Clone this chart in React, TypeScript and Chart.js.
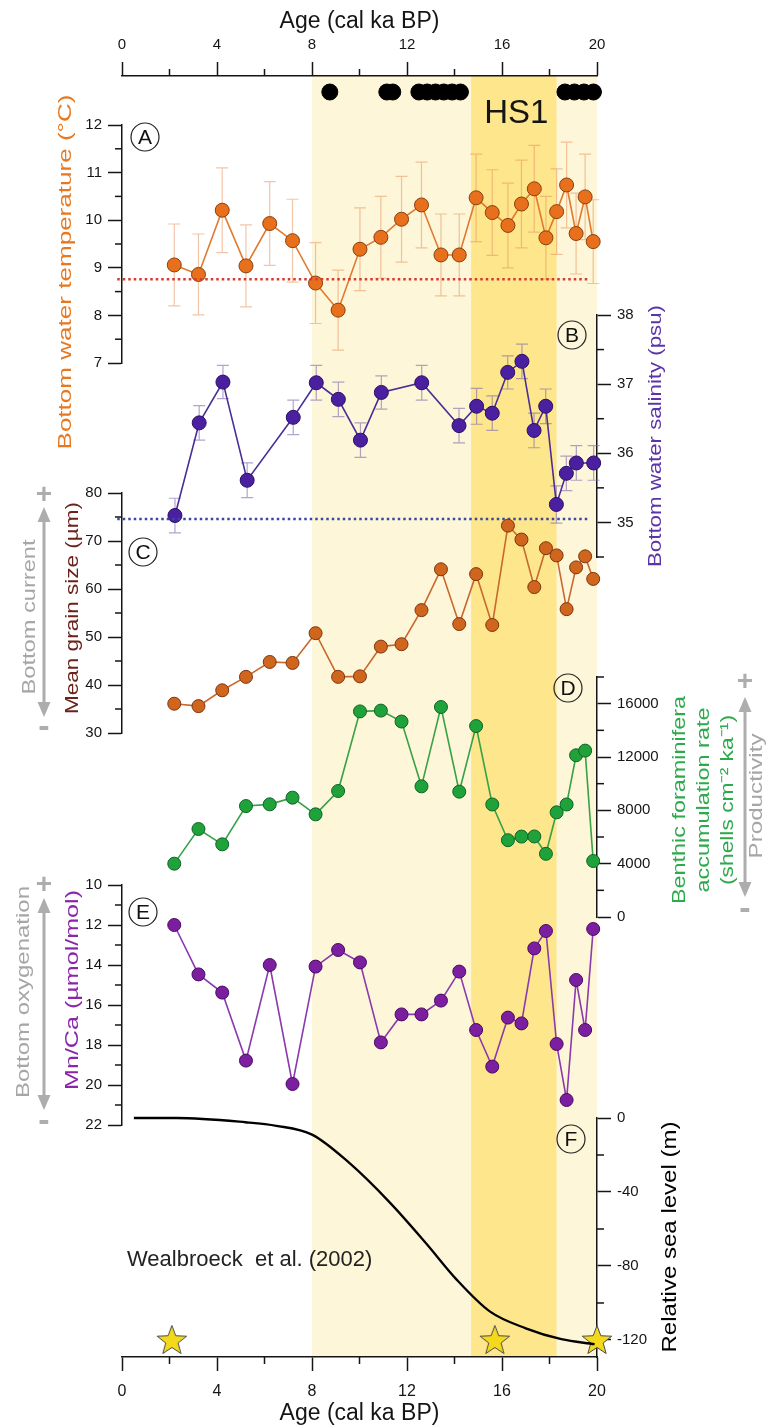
import React, { useEffect, useRef } from 'react';
import { Chart, registerables } from 'chart.js';

Chart.register(...registerables);

const W = 766;
const H = 1428;
const FONT = "'Liberation Sans', Arial, Helvetica, sans-serif";
const PLOT_LEFT = 122;
const PLOT_RIGHT = 597;
const FRAME_TOP = 76;
const FRAME_BOTTOM = 1357;

// ---------------- data ----------------
const AGE_TICKS = [0, 2, 4, 6, 8, 10, 12, 14, 16, 18, 20];
const AGE_LABELS = [0, 4, 8, 12, 16, 20];

const LIGHT_BANDS = [[8.0, 14.7], [18.3, 20.0]];
const HS1_BAND = [14.7, 18.3];

const DATED_AGES = [8.75, 11.15, 11.4, 12.5, 12.85, 13.2, 13.55, 13.9, 14.25, 18.65, 19.05, 19.45, 19.85];
const DATED_ROW = 0.9875;

const SAMPLE_AGES = [2.2, 3.22, 4.22, 5.22, 6.22, 7.18, 8.15, 9.1, 10.02, 10.9, 11.77, 12.61, 13.43, 14.2, 14.91, 15.59, 16.25, 16.82, 17.36, 17.85, 18.3, 18.72, 19.12, 19.5, 19.84];

const TEMP = [9.06, 8.86, 10.21, 9.04, 9.93, 9.57, 8.68, 8.11, 9.39, 9.64, 10.02, 10.32, 9.27, 9.27, 10.47, 10.16, 9.89, 10.34, 10.66, 9.63, 10.18, 10.74, 9.72, 10.49, 9.55];
const TEMP_ERR = [0.86, 0.85, 0.89, 0.86, 0.88, 0.87, 0.85, 0.84, 0.87, 0.86, 0.9, 0.9, 0.86, 0.86, 0.92, 0.9, 0.89, 0.92, 0.91, 0.87, 0.9, 0.9, 0.85, 0.9, 0.88];
const TEMP_REF = 8.76;
const TEMP_REF_SPAN = [-0.2, 19.6];
const TEMP_TICKS = [7, 7.5, 8, 8.5, 9, 9.5, 10, 10.5, 11, 11.5, 12];
const TEMP_LABELS = [7, 8, 9, 10, 11, 12];

const SAL_AGES = [2.23, 3.25, 4.25, 5.27, 7.21, 8.18, 9.11, 10.04, 10.92, 12.62, 14.19, 14.93, 15.59, 16.24, 16.84, 17.35, 17.84, 18.29, 18.71, 19.13, 19.86];
const SAL = [35.1, 36.44, 37.03, 35.61, 36.52, 37.02, 36.78, 36.19, 36.88, 37.02, 36.4, 36.68, 36.58, 37.17, 37.33, 36.33, 36.68, 35.26, 35.71, 35.86, 35.86];
const SAL_ERR = [0.25, 0.25, 0.24, 0.25, 0.25, 0.25, 0.25, 0.25, 0.24, 0.25, 0.25, 0.26, 0.25, 0.24, 0.25, 0.25, 0.25, 0.27, 0.25, 0.25, 0.25];
const SAL_REF = 35.05;
const SAL_REF_SPAN = [-0.2, 19.7];
const SAL_TICKS = [34.5, 35, 35.5, 36, 36.5, 37, 37.5, 38];
const SAL_LABELS = [35, 36, 37, 38];

const GRAIN = [36.1, 35.6, 38.9, 41.7, 44.8, 44.6, 50.8, 41.7, 41.8, 48.0, 48.5, 55.6, 64.1, 52.7, 63.1, 52.5, 73.2, 70.3, 60.4, 68.5, 67.0, 55.8, 64.5, 66.8, 62.1];
const GRAIN_TICKS = [30, 35, 40, 45, 50, 55, 60, 65, 70, 75, 80];
const GRAIN_LABELS = [30, 40, 50, 60, 70, 80];

const BFAR = [4000, 6600, 5450, 8320, 8450, 8950, 7700, 9450, 15420, 15480, 14660, 9800, 15750, 9400, 14320, 8440, 5760, 6030, 6040, 4740, 7850, 8440, 12130, 12480, 4200];
const BFAR_TICKS = [0, 2000, 4000, 6000, 8000, 10000, 12000, 14000, 16000, 18000];
const BFAR_LABELS = [0, 4000, 8000, 12000, 16000];

const MNCA = [12.0, 14.47, 15.38, 18.78, 14.0, 19.95, 14.08, 13.25, 13.87, 17.87, 16.47, 16.47, 15.78, 14.33, 17.25, 19.08, 16.63, 16.92, 13.17, 12.3, 17.95, 20.75, 14.75, 17.25, 12.2];
const MNCA_TICKS = [10, 11, 12, 13, 14, 15, 16, 17, 18, 19, 20, 21, 22];
const MNCA_LABELS = [10, 12, 14, 16, 18, 20, 22];

const SEA_AGES = [0.5, 2.3, 5.2, 6.5, 8.0, 9.5, 11.3, 12.8, 14.1, 15.5, 17.0, 18.5, 19.9];
const SEA_LEVEL = [0, 0, -2.3, -4.2, -9, -23.5, -46, -67.7, -87.5, -104.7, -113.7, -119.6, -122.3];
const SEA_TICKS = [0, -20, -40, -60, -80, -100, -120];
const SEA_LABELS = [0, -40, -80, -120];
const STAR_AGES = [2.1, 15.7, 20.0];
const STAR_LEVEL = -120;

// ---------------- helpers ----------------
const near = (list: number[], v: number) => list.some((m) => Math.abs(m - v) < 1e-9);

function rotatedText(ctx: CanvasRenderingContext2D, text: string, x: number, cy: number, size: number, color: string, length: number) {
  ctx.save();
  ctx.font = `${size}px ${FONT}`;
  const w = ctx.measureText(text).width;
  ctx.translate(x, cy);
  ctx.rotate(-Math.PI / 2);
  ctx.scale(length / w, 1);
  ctx.fillStyle = color;
  ctx.textAlign = 'center';
  ctx.textBaseline = 'middle';
  ctx.fillText(text, 0, 0);
  ctx.restore();
}

function letterCircle(ctx: CanvasRenderingContext2D, letter: string, x: number, y: number) {
  ctx.save();
  ctx.beginPath();
  ctx.arc(x, y, 14, 0, Math.PI * 2);
  ctx.lineWidth = 1.2;
  ctx.strokeStyle = '#222';
  ctx.stroke();
  ctx.font = `21px ${FONT}`;
  ctx.fillStyle = '#111';
  ctx.textAlign = 'center';
  ctx.textBaseline = 'middle';
  ctx.fillText(letter, x, y + 1);
  ctx.restore();
}

function grayArrow(ctx: CanvasRenderingContext2D, x: number, tipTop: number, tipBot: number, plusY: number, minusY: number) {
  const c = '#ADADAD';
  ctx.save();
  ctx.strokeStyle = c;
  ctx.fillStyle = c;
  ctx.lineWidth = 3;
  ctx.beginPath();
  ctx.moveTo(x, tipTop + 10);
  ctx.lineTo(x, tipBot - 10);
  ctx.stroke();
  ctx.beginPath();
  ctx.moveTo(x, tipTop);
  ctx.lineTo(x - 6.5, tipTop + 15);
  ctx.lineTo(x + 6.5, tipTop + 15);
  ctx.closePath();
  ctx.fill();
  ctx.beginPath();
  ctx.moveTo(x, tipBot);
  ctx.lineTo(x - 6.5, tipBot - 15);
  ctx.lineTo(x + 6.5, tipBot - 15);
  ctx.closePath();
  ctx.fill();
  ctx.textAlign = 'center';
  ctx.textBaseline = 'middle';
  ctx.font = `bold 28px ${FONT}`;
  ctx.fillText('+', x, plusY);
  ctx.font = `bold 34px ${FONT}`;
  ctx.fillText('-', x, minusY);
  ctx.restore();
}

let starCanvas: HTMLCanvasElement | null = null;
function getStar() {
  if (starCanvas) return starCanvas;
  const c = document.createElement('canvas');
  c.width = 34;
  c.height = 34;
  const g = c.getContext('2d')!;
  g.beginPath();
  for (let i = 0; i < 10; i++) {
    const r = i % 2 === 0 ? 15.5 : 6.5;
    const a = -Math.PI / 2 + (i * Math.PI) / 5;
    const px = 17 + r * Math.cos(a);
    const py = 18 + r * Math.sin(a);
    if (i === 0) g.moveTo(px, py);
    else g.lineTo(px, py);
  }
  g.closePath();
  g.fillStyle = '#F4D81C';
  g.fill();
  g.lineWidth = 1;
  g.strokeStyle = '#4a4a4a';
  g.stroke();
  starCanvas = c;
  return c;
}

function series(xs: number[], ys: number[]) {
  return xs.map((x, i) => ({ x, y: ys[i] }));
}

function refLine(span: number[], v: number) {
  return span.map((x) => ({ x, y: v }));
}

function markerSeries(xs: number[], ys: number[], line: string, fill: string, edge: string, r: number) {
  return {
    data: series(xs, ys),
    borderColor: line,
    borderWidth: 1.6,
    pointRadius: r,
    pointBackgroundColor: fill,
    pointBorderColor: edge,
    pointBorderWidth: 1,
    tension: 0,
    clip: false as const,
  };
}

function dottedSeries(span: number[], v: number, color: string) {
  return {
    data: refLine(span, v),
    borderColor: color,
    borderWidth: 2.6,
    borderDash: [2.5, 3],
    pointRadius: 0,
    clip: false as const,
  };
}

// ---------------- panels ----------------
interface PanelSpec {
  side: 'left' | 'right';
  top: number;
  bottom: number;
  min: number;
  max: number;
  reverse?: boolean;
  ticks: number[];
  labels: number[];
  datasets: any[];
  errors?: { xs: number[]; ys: number[]; err: number[]; color: string };
  decorate: (ctx: CanvasRenderingContext2D) => void;
}

function panels(): PanelSpec[] {
  return [
    {
      side: 'left', top: 125, bottom: 363, min: 7, max: 12,
      ticks: TEMP_TICKS, labels: TEMP_LABELS,
      datasets: [
        dottedSeries(TEMP_REF_SPAN, TEMP_REF, '#D43A32'),
        markerSeries(SAMPLE_AGES, TEMP, '#E07A30', '#E8701C', '#86400F', 7),
      ],
      errors: { xs: SAMPLE_AGES, ys: TEMP, err: TEMP_ERR, color: 'rgba(231,150,95,0.55)' },
      decorate: (ctx) => {
        rotatedText(ctx, 'Bottom water temperature (°C)', 66, 272, 19, '#E8781F', 355);
        letterCircle(ctx, 'A', 145, 137);
      },
    },
    {
      side: 'right', top: 315, bottom: 557, min: 34.5, max: 38,
      ticks: SAL_TICKS, labels: SAL_LABELS,
      datasets: [
        dottedSeries(SAL_REF_SPAN, SAL_REF, '#3B48A0'),
        markerSeries(SAL_AGES, SAL, '#4A2E98', '#4B20A0', '#2A0F66', 7),
      ],
      errors: { xs: SAL_AGES, ys: SAL, err: SAL_ERR, color: 'rgba(125,105,175,0.6)' },
      decorate: (ctx) => {
        rotatedText(ctx, 'Bottom water salinity (psu)', 656, 436, 19, '#5B34A8', 262);
        letterCircle(ctx, 'B', 572, 335);
      },
    },
    {
      side: 'left', top: 493, bottom: 733, min: 30, max: 80,
      ticks: GRAIN_TICKS, labels: GRAIN_LABELS,
      datasets: [markerSeries(SAMPLE_AGES, GRAIN, '#C8682E', '#D0661E', '#7A3510', 6.5)],
      decorate: (ctx) => {
        rotatedText(ctx, 'Mean grain size (µm)', 73, 608, 19, '#6A2219', 212);
        rotatedText(ctx, 'Bottom current', 30, 617, 19, '#A6A6A6', 155);
        grayArrow(ctx, 44, 507, 717, 495, 728);
        letterCircle(ctx, 'C', 143, 552);
      },
    },
    {
      side: 'right', top: 677, bottom: 917, min: 0, max: 18000,
      ticks: BFAR_TICKS, labels: BFAR_LABELS,
      datasets: [markerSeries(SAMPLE_AGES, BFAR, '#36A247', '#1FA23A', '#0F6328', 6.5)],
      decorate: (ctx) => {
        rotatedText(ctx, 'Benthic foraminifera', 680, 800, 19, '#2DAA4C', 208);
        rotatedText(ctx, 'accumulation rate', 704, 800, 19, '#2DAA4C', 185);
        rotatedText(ctx, '(shells cm⁻² ka⁻¹)', 728, 800, 19, '#2DAA4C', 170);
        rotatedText(ctx, 'Productivity', 757, 796, 19, '#A6A6A6', 125);
        grayArrow(ctx, 745, 697, 897, 682, 910);
        letterCircle(ctx, 'D', 568, 688);
      },
    },
    {
      side: 'left', top: 885, bottom: 1125, min: 10, max: 22, reverse: true,
      ticks: MNCA_TICKS, labels: MNCA_LABELS,
      datasets: [markerSeries(SAMPLE_AGES, MNCA, '#8A3AAE', '#7C1EA0', '#4A0A62', 6.5)],
      decorate: (ctx) => {
        rotatedText(ctx, 'Mn/Ca (µmol/mol)', 73, 990, 19, '#8A26AA', 200);
        rotatedText(ctx, 'Bottom oxygenation', 24, 992, 19, '#A6A6A6', 212);
        grayArrow(ctx, 44, 898, 1110, 885, 1122);
        letterCircle(ctx, 'E', 143, 912);
      },
    },
    {
      side: 'right', top: 1118, bottom: FRAME_BOTTOM, min: -129.2, max: 0,
      ticks: SEA_TICKS, labels: SEA_LABELS,
      datasets: [
        {
          data: series(SEA_AGES, SEA_LEVEL),
          borderColor: '#000',
          borderWidth: 2.3,
          pointRadius: 0,
          cubicInterpolationMode: 'monotone',
          clip: false,
        },
        {
          data: STAR_AGES.map((x) => ({ x, y: STAR_LEVEL })),
          showLine: false,
          pointStyle: getStar(),
          pointRadius: 16,
          clip: false,
        },
      ],
      decorate: (ctx) => {
        rotatedText(ctx, 'Relative sea level (m)', 670, 1237, 20, '#000', 231);
        letterCircle(ctx, 'F', 571, 1139);
        ctx.save();
        ctx.font = `22px ${FONT}`;
        ctx.fillStyle = '#222';
        ctx.textAlign = 'left';
        ctx.textBaseline = 'middle';
        ctx.fillText('Wealbroeck  et al. (2002)', 127, 1260);
        ctx.restore();
      },
    },
  ];
}

function panelConfig(spec: PanelSpec): any {
  const isLabel = (v: number) => near(spec.labels, v);
  const minor = spec.ticks.filter((v) => !isLabel(v));
  return {
    type: 'line',
    data: { datasets: spec.datasets },
    options: {
      responsive: false,
      animation: false,
      events: [],
      layout: {
        padding: {
          top: spec.top,
          bottom: H - spec.bottom,
          left: spec.side === 'left' ? 0 : PLOT_LEFT,
          right: spec.side === 'left' ? W - PLOT_RIGHT : 0,
        },
      },
      plugins: { legend: { display: false }, tooltip: { enabled: false } },
      scales: {
        x: { type: 'linear', min: 0, max: 20, display: false },
        y: {
          type: 'linear',
          position: spec.side,
          min: spec.min,
          max: spec.max,
          reverse: !!spec.reverse,
          afterFit: (s: any) => {
            s.width = spec.side === 'left' ? PLOT_LEFT : W - PLOT_RIGHT;
          },
          afterBuildTicks: (s: any) => {
            s.ticks = spec.ticks.map((value) => ({ value }));
          },
          ticks: {
            autoSkip: false,
            callback: (v: any) => (isLabel(Number(v)) ? String(v) : ''),
            color: '#151515',
            font: { family: FONT, size: 15 },
            padding: 6,
          },
          grid: {
            drawOnChartArea: false,
            drawTicks: true,
            tickLength: 14,
            tickWidth: 1.5,
            tickColor: (c: any) => (c.tick && isLabel(c.tick.value) ? '#151515' : 'rgba(0,0,0,0)'),
          },
          border: { display: true, color: '#151515', width: 1.5 },
        },
      },
    },
    plugins: [
      {
        id: 'panelDecor',
        beforeDatasetsDraw(chart: any) {
          const e = spec.errors;
          if (!e) return;
          const { ctx } = chart;
          const xs = chart.scales.x;
          const ys = chart.scales.y;
          ctx.save();
          ctx.strokeStyle = e.color;
          ctx.lineWidth = 1.2;
          e.xs.forEach((a, i) => {
            const px = xs.getPixelForValue(a);
            const t = ys.getPixelForValue(e.ys[i] + e.err[i]);
            const b = ys.getPixelForValue(e.ys[i] - e.err[i]);
            ctx.beginPath();
            ctx.moveTo(px, t);
            ctx.lineTo(px, b);
            ctx.moveTo(px - 6, t);
            ctx.lineTo(px + 6, t);
            ctx.moveTo(px - 6, b);
            ctx.lineTo(px + 6, b);
            ctx.stroke();
          });
          ctx.restore();
        },
        afterDraw(chart: any) {
          const { ctx } = chart;
          const ys = chart.scales.y;
          const x0 = spec.side === 'left' ? chart.chartArea.left : chart.chartArea.right;
          const dir = spec.side === 'left' ? -1 : 1;
          ctx.save();
          ctx.strokeStyle = '#151515';
          ctx.lineWidth = 1.5;
          minor.forEach((v) => {
            const py = ys.getPixelForValue(v);
            ctx.beginPath();
            ctx.moveTo(x0, py);
            ctx.lineTo(x0 + dir * 7, py);
            ctx.stroke();
          });
          ctx.restore();
          spec.decorate(ctx);
        },
      },
    ],
  };
}

function ageAxis(position: 'top' | 'bottom'): any {
  const top = position === 'top';
  return {
    type: 'linear',
    position,
    min: 0,
    max: 20,
    afterFit: (s: any) => {
      s.height = top ? FRAME_TOP : H - FRAME_BOTTOM;
    },
    afterBuildTicks: (s: any) => {
      s.ticks = AGE_TICKS.map((value) => ({ value }));
    },
    ticks: {
      autoSkip: false,
      maxRotation: 0,
      callback: (v: any) => (near(AGE_LABELS, Number(v)) ? String(v) : ''),
      color: '#151515',
      font: { family: FONT, size: top ? 15 : 16 },
      padding: top ? 8 : 11,
    },
    grid: {
      drawOnChartArea: false,
      drawTicks: true,
      tickLength: 14,
      tickWidth: 1.5,
      tickColor: (c: any) => (c.tick && near(AGE_LABELS, c.tick.value) ? '#151515' : 'rgba(0,0,0,0)'),
    },
    border: { display: true, color: '#151515', width: 1.5 },
    title: {
      display: true,
      text: 'Age (cal ka BP)',
      color: '#151515',
      font: { family: FONT, size: 23 },
      padding: top ? { top: 8, bottom: 0 } : { top: 0, bottom: 1 },
    },
  };
}

function frameConfig(): any {
  return {
    type: 'scatter',
    data: {
      datasets: [
        {
          data: DATED_AGES.map((x) => ({ x, y: DATED_ROW })),
          xAxisID: 'x',
          yAxisID: 'y',
          pointRadius: 8,
          pointBackgroundColor: '#000',
          pointBorderColor: '#000',
          clip: false,
        },
      ],
    },
    options: {
      responsive: false,
      animation: false,
      events: [],
      layout: { padding: { left: PLOT_LEFT, right: W - PLOT_RIGHT, top: 0, bottom: 0 } },
      plugins: { legend: { display: false }, tooltip: { enabled: false } },
      scales: {
        x: ageAxis('top'),
        x2: ageAxis('bottom'),
        y: { type: 'linear', display: false, min: 0, max: 1 },
      },
    },
    plugins: [
      {
        id: 'frameDecor',
        beforeDraw(chart: any) {
          const { ctx, chartArea } = chart;
          const xs = chart.scales.x;
          ctx.save();
          ctx.fillStyle = '#FEF6D8';
          LIGHT_BANDS.forEach(([a, b]) => {
            const l = xs.getPixelForValue(a);
            ctx.fillRect(l, chartArea.top, xs.getPixelForValue(b) - l, chartArea.bottom - chartArea.top);
          });
          ctx.fillStyle = '#FDE68C';
          const l = xs.getPixelForValue(HS1_BAND[0]);
          ctx.fillRect(l, chartArea.top, xs.getPixelForValue(HS1_BAND[1]) - l, chartArea.bottom - chartArea.top);
          ctx.restore();
        },
        afterDraw(chart: any) {
          const { ctx, chartArea } = chart;
          const xs = chart.scales.x;
          ctx.save();
          ctx.strokeStyle = '#151515';
          ctx.lineWidth = 1.5;
          AGE_TICKS.filter((v) => !near(AGE_LABELS, v)).forEach((v) => {
            const px = xs.getPixelForValue(v);
            ctx.beginPath();
            ctx.moveTo(px, chartArea.top);
            ctx.lineTo(px, chartArea.top - 7);
            ctx.moveTo(px, chartArea.bottom);
            ctx.lineTo(px, chartArea.bottom + 7);
            ctx.stroke();
          });
          ctx.font = `33px ${FONT}`;
          ctx.fillStyle = '#151515';
          ctx.textAlign = 'center';
          ctx.textBaseline = 'middle';
          ctx.fillText('HS1', xs.getPixelForValue((HS1_BAND[0] + HS1_BAND[1]) / 2 + 0.1), 114);
          ctx.restore();
        },
      },
    ],
  };
}

export default function App() {
  const refs = useRef<(HTMLCanvasElement | null)[]>([]);

  useEffect(() => {
    document.body.style.margin = '0';
    document.body.style.overflow = 'hidden';
    const configs = [frameConfig(), ...panels().map(panelConfig)];
    const charts = configs.map((cfg, i) => new Chart(refs.current[i] as HTMLCanvasElement, cfg));
    return () => {
      charts.forEach((c) => c.destroy());
    };
  }, []);

  return (
    <div style={{ position: 'relative', width: W, height: H, background: '#fff', overflow: 'hidden' }}>
      {Array.from({ length: 7 }).map((_, i) => (
        <canvas
          key={i}
          ref={(el) => {
            refs.current[i] = el;
          }}
          width={W}
          height={H}
          style={{ position: 'absolute', left: 0, top: 0 }}
        />
      ))}
    </div>
  );
}
